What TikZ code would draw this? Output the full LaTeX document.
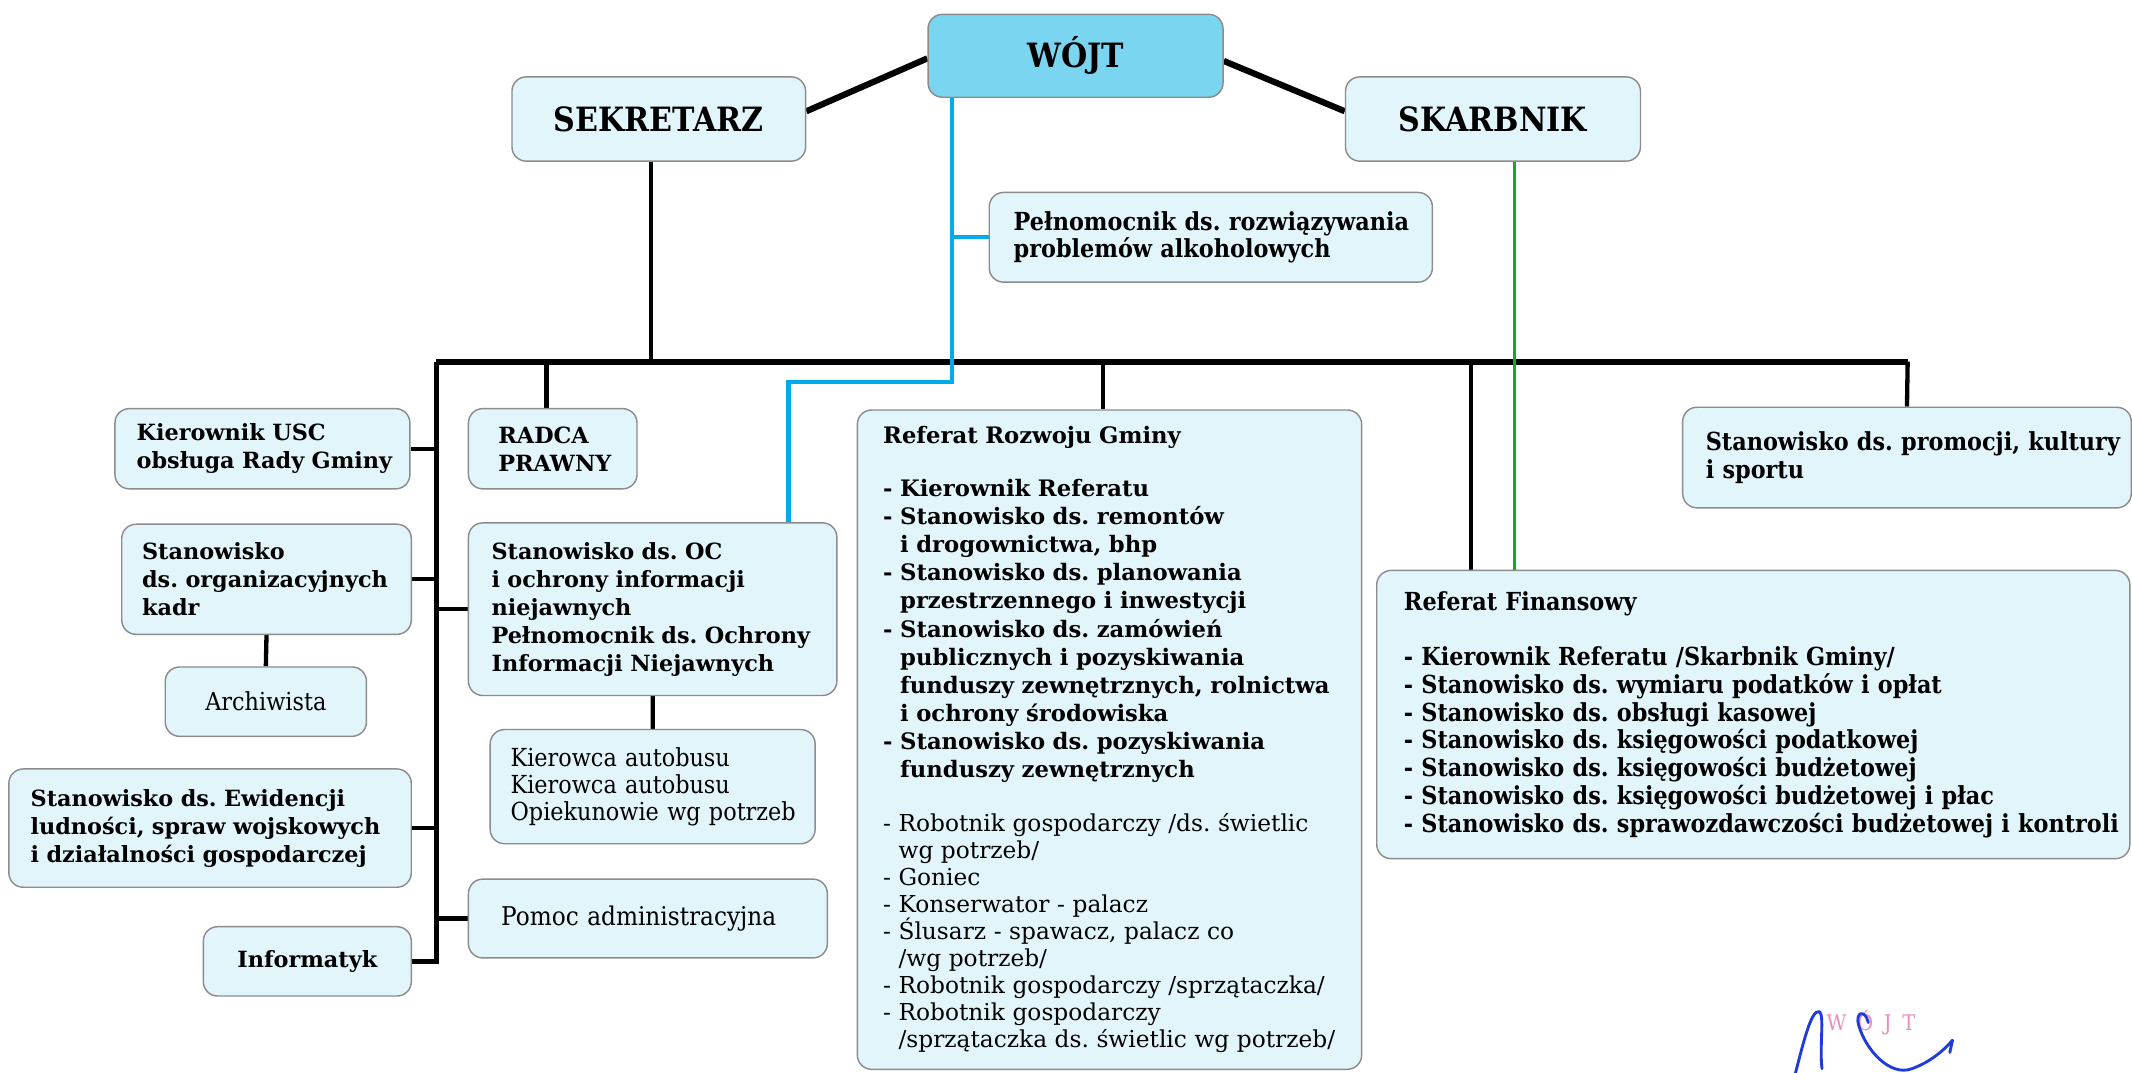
\documentclass[tikz,border=0pt]{standalone}
\usepackage{fontspec}
\setmainfont{DejaVu Serif}
\newfontfamily\condfont[FakeStretch=0.9]{DejaVu Serif}
\newfontfamily\narrowfont[FakeStretch=0.9]{DejaVu Serif}
\frenchspacing
\setlength\parindent{0pt}
\usetikzlibrary{calc,backgrounds}
\definecolor{boxfill}{RGB}{226,245,250}
\definecolor{boxline}{RGB}{140,140,140}
\definecolor{wojtfill}{RGB}{122,213,240}
\definecolor{lineblue}{RGB}{0,170,235}
\definecolor{linegreen}{RGB}{20,170,40}
\definecolor{stamp}{RGB}{235,140,190}
\definecolor{sig}{RGB}{30,60,220}
\newcommand\Lne[1]{\mbox{#1}}
\begin{document}
\begin{tikzpicture}[x=0.02cm,y=-0.02cm,
  box/.style={draw=boxline, line width=0.6pt, fill=boxfill, rounded corners=6pt,
    anchor=north west, inner ysep=0pt, align=left},
  cbox/.style={box, align=center, inner xsep=0pt},
  conn/.style={line width=1.8pt, black},
  busline/.style={line width=2.5pt, black},
  diag/.style={line width=2.6pt, black},
  blueline/.style={line width=1.8pt, lineblue},
  greenline/.style={line width=1.3pt, linegreen},
  sigline/.style={sig, line width=1.2pt, line cap=round, line join=round},
  fbold/.style={font=\fontsize{9.35}{11.7}\selectfont\bfseries},
  frozw/.style={font=\fontsize{9.5}{11.75}\selectfont\bfseries},
  fcond/.style={font=\condfont\fontsize{10.4}{11.6}\selectfont\bfseries},
  fnarrow/.style={font=\narrowfont\fontsize{10.4}{11.4}\selectfont},
  ftitle/.style={font=\condfont\fontsize{14}{16}\selectfont\bfseries}]

\useasboundingbox (0,0) rectangle (1568,789);

% top
\node[cbox, ftitle, fill=wojtfill, minimum width=4.34cm, minimum height=1.22cm] (wojt) at (682,10) {WÓJT};
\node[cbox, ftitle, minimum width=4.32cm, minimum height=1.24cm] (sek) at (376,56) {SEKRETARZ};
\node[cbox, ftitle, minimum width=4.34cm, minimum height=1.24cm] (ska) at (989,56) {SKARBNIK};
\node[box, fcond, minimum width=6.52cm, minimum height=1.32cm, text width=5.80cm, inner xsep=0.36cm] (peln) at (727,141)
  {\Lne{Pełnomocnik ds. rozwiązywania}\\\Lne{problemów alkoholowych}};

% left column
\node[box, fbold, minimum width=4.34cm, minimum height=1.18cm, text width=3.70cm, inner xsep=0.32cm] (usc) at (84,300)
  {\Lne{Kierownik USC}\\\Lne{obsługa Rady Gminy}};
\node[box, fbold, minimum width=4.26cm, minimum height=1.62cm, text width=3.66cm, inner xsep=0.30cm] (org) at (89,385)
  {\Lne{Stanowisko}\\\Lne{ds. organizacyjnych}\\\Lne{kadr}};
\node[cbox, fnarrow, minimum width=2.96cm, minimum height=1.02cm] (arch) at (121,490) {Archiwista};
\node[box, fbold, minimum width=5.92cm, minimum height=1.74cm, text width=5.28cm, inner xsep=0.32cm] (ewid) at (6,565)
  {\Lne{Stanowisko ds. Ewidencji}\\\Lne{ludności, spraw wojskowych}\\\Lne{i działalności gospodarczej}};
\node[cbox, fbold, minimum width=3.06cm, minimum height=1.02cm] (inf) at (149,681) {Informatyk};

% second column
\node[box, fbold, minimum width=2.48cm, minimum height=1.18cm, text width=1.60cm, inner xsep=0.44cm] (radca) at (344,300)
  {\Lne{RADCA}\\\Lne{PRAWNY}};
\node[box, fbold, minimum width=5.42cm, minimum height=2.54cm, text width=4.74cm, inner xsep=0.34cm] (oc) at (344,384)
  {\Lne{Stanowisko ds. OC}\\\Lne{i ochrony informacji}\\\Lne{niejawnych}\\\Lne{Pełnomocnik ds. Ochrony}\\\Lne{Informacji Niejawnych}};
\node[box, fnarrow, minimum width=4.78cm, minimum height=1.68cm, text width=4.18cm, inner xsep=0.30cm] (kier) at (360,536)
  {\Lne{Kierowca autobusu}\\\Lne{Kierowca autobusu}\\\Lne{Opiekunowie wg potrzeb}};
\node[box, fnarrow, font=\narrowfont\fontsize{10.8}{11.4}\selectfont, minimum width=5.28cm, minimum height=1.16cm, text width=4.32cm, inner xsep=0.48cm] (pomoc) at (344,646)
  {\Lne{Pomoc administracyjna}};

% Referat Rozwoju Gminy
\node[box, frozw, minimum width=7.42cm, minimum height=9.70cm, text width=6.66cm, inner xsep=0.38cm] (rozw) at (630,301)
  {\Lne{Referat Rozwoju Gminy}\par\vspace{10.5pt}
   \Lne{- Kierownik Referatu}\\
   \Lne{- Stanowisko ds. remontów}\\
   \Lne{\phantom{- }i drogownictwa, bhp}\\
   \Lne{- Stanowisko ds. planowania}\\
   \Lne{\phantom{- }przestrzennego i inwestycji}\\
   \Lne{- Stanowisko ds. zamówień}\\
   \Lne{\phantom{- }publicznych i pozyskiwania}\\
   \Lne{\phantom{- }funduszy zewnętrznych, rolnictwa}\\
   \Lne{\phantom{- }i ochrony środowiska}\\
   \Lne{- Stanowisko ds. pozyskiwania}\\
   \Lne{\phantom{- }funduszy zewnętrznych}\par\vspace{11.5pt}
   \mdseries\fontsize{9.75}{11.3}\selectfont
   \Lne{- Robotnik gospodarczy /ds. świetlic}\\
   \Lne{\phantom{- }wg potrzeb/}\\
   \Lne{- Goniec}\\
   \Lne{- Konserwator - palacz}\\
   \Lne{- Ślusarz - spawacz, palacz co}\\
   \Lne{\phantom{- }/wg potrzeb/}\\
   \Lne{- Robotnik gospodarczy /sprzątaczka/}\\
   \Lne{- Robotnik gospodarczy}\\
   \Lne{\phantom{- }/sprzątaczka ds. świetlic wg potrzeb/}\par};

% right
\node[box, fcond, minimum width=6.60cm, minimum height=1.48cm, text width=5.92cm, inner xsep=0.34cm] (prom) at (1237,299)
  {\Lne{Stanowisko ds. promocji, kultury}\\\Lne{i sportu}};
\node[box, fcond, minimum width=11.08cm, minimum height=4.24cm, text width=10.28cm, inner xsep=0.40cm] (fin) at (1012,419)
  {\Lne{Referat Finansowy}\\[11.6pt]
   \Lne{- Kierownik Referatu /Skarbnik Gminy/}\\
   \Lne{- Stanowisko ds. wymiaru podatków i opłat}\\
   \Lne{- Stanowisko ds. obsługi kasowej}\\
   \Lne{- Stanowisko ds. księgowości podatkowej}\\
   \Lne{- Stanowisko ds. księgowości budżetowej}\\
   \Lne{- Stanowisko ds. księgowości budżetowej i płac}\\
   \Lne{- Stanowisko ds. sprawozdawczości budżetowej i kontroli}};

% stamp and signature
\node[font=\narrowfont\fontsize{9}{10}\selectfont, text=stamp, inner sep=0pt] (stampt) at (1376,752)
  {W\hspace{4.5pt}Ó\hspace{4.5pt}J\hspace{4.5pt}T};

\begin{scope}[on background layer]
  \fill[white] (0,0) rectangle (1568,789);
  \coordinate (busL) at (321,266);
  \coordinate (busR) at (1403,266);
  \coordinate (secB) at (479,266);
  \coordinate (radB) at (402,266);
  \coordinate (rozB) at (811,266);
  \coordinate (finB) at (1082,266);
  \coordinate (blueX) at (700,281);
  \coordinate (blueT) at (580,281);
  \coordinate (greenX) at (1114,266);

  \draw[diag] (sek.3.7) -- (wojt.181.8);
  \draw[diag] (wojt.358.2) -- (ska.177.4);
  \draw[conn] (sek.south -| secB) -- (secB);
  \draw[busline] (busL) -- (busR);
  \draw[conn] (busL) |- (inf.east);
  \draw[conn] (usc.east) -- (usc.east -| busL);
  \draw[conn] (org.east) -- (org.east -| busL);
  \draw[conn] (ewid.east) -- (ewid.east -| busL);
  \draw[conn] (oc.west -| busL) -- (oc.west);
  \draw[conn] (pomoc.west -| busL) -- (pomoc.west);
  \draw[conn] (radB) -- (radB |- radca.north);
  \draw[conn] (org.south) -- (arch.north);
  \draw[conn] (oc.south) -- (kier.north);
  \draw[conn] (rozB) -- (rozB |- rozw.north);
  \draw[conn] (finB) -- (finB |- fin.north);
  \draw[conn] (busR) -- (prom.north);
  \draw[blueline] (wojt.south -| blueX) -- (blueX) -- (blueT) -- (blueT |- oc.north);
  \draw[blueline] (blueX |- peln.west) -- (peln.west);
  \draw[greenline] (ska.south -| greenX) -- (greenX |- fin.north);
\end{scope}

\draw[sigline] (1320,791) .. controls (1326,768) and (1332,742) .. (1338,744)
  .. controls (1342,746) and (1338,770) .. (1340,786);
\draw[sigline] (1374,752) .. controls (1372,742) and (1364,744) .. (1367,754)
  .. controls (1372,772) and (1390,792) .. (1406,786)
  .. controls (1420,781) and (1430,772) .. (1436,765) -- (1434,774);
\end{tikzpicture}
\end{document}
